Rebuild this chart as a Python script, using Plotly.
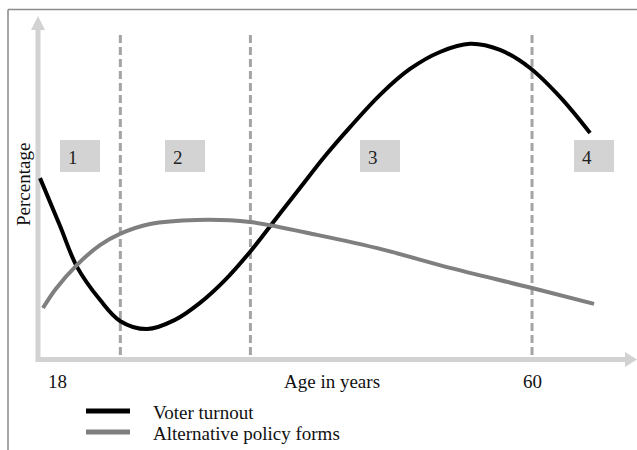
import plotly.graph_objects as go

# voter turnout over the life course (age in years, height on the percentage axis)
turnout_age = [16.50, 18.27, 19.77, 21.80, 23.57, 25.96, 28.43, 30.64, 32.85, 35.06,
               37.27, 39.48, 41.70, 43.91, 46.56, 49.21, 51.86, 54.52, 57.17, 59.82,
               62.47, 65.13]
turnout_pct = [52.9, 38.8, 26.8, 17.1, 10.9, 8.5, 11.2, 16.2, 22.9, 31.2,
               40.6, 50.0, 59.4, 67.9, 77.4, 85.0, 90.0, 92.4, 90.6, 85.3,
               76.8, 66.2]

# alternative policy forms
alt_age = [16.76, 17.82, 19.77, 21.80, 23.57, 26.22, 30.38, 35.06, 40.99, 46.91,
           52.75, 60.0, 65.48]
alt_pct = [14.7, 20.0, 27.4, 33.2, 36.5, 39.4, 40.6, 40.0, 36.2, 31.8,
           26.5, 20.6, 15.9]

stage_bounds = [23.6, 35.1, 60.0]
stage_labels = ["1", "2", "3", "4"]
tick_ages = [18, 60]
series_names = ["Voter turnout", "Alternative policy forms"]

FONT = "Liberation Serif"
FS = 19
AXIS_C = "#d2d2d2"
DASH_C = "#a4a4a4"
BOX_C = "#d3d3d3"
BLACK = "#000000"
GREY = "#7f7f7f"

W, H = 637, 450
# pixel -> data helpers (plot area is the whole page)
X_MIN, X_MAX = 12.96, 69.28
Y_MIN, Y_MAX = -27.06, 105.29


def px(x):
    return X_MIN + x / W * (X_MAX - X_MIN)


def py(y):
    return Y_MAX - y / H * (Y_MAX - Y_MIN)


fig = go.Figure()
fig.add_trace(go.Scatter(x=turnout_age, y=turnout_pct, mode="lines",
                         line=dict(color=BLACK, width=4, shape="spline", smoothing=1),
                         name=series_names[0], hoverinfo="skip"))
fig.add_trace(go.Scatter(x=alt_age, y=alt_pct, mode="lines",
                         line=dict(color=GREY, width=4, shape="spline", smoothing=0.8),
                         name=series_names[1], hoverinfo="skip"))

shapes = []
# frame (top and left only)
shapes.append(dict(type="line", xref="paper", yref="paper", x0=8 / W, x1=1,
                   y0=1 - 9.5 / H, y1=1 - 9.5 / H, line=dict(color="#8a8a8a", width=1.5)))
shapes.append(dict(type="line", xref="paper", yref="paper", x0=8 / W, x1=8 / W,
                   y0=0, y1=1 - 9.5 / H, line=dict(color="#8a8a8a", width=1.5)))

# axes with arrowheads
ax_x = px(38)
shapes.append(dict(type="line", x0=ax_x, x1=ax_x, y0=py(362), y1=py(29),
                   line=dict(color=AXIS_C, width=5), layer="below"))
shapes.append(dict(type="path", fillcolor=AXIS_C, line=dict(width=0), layer="below",
                   path=f"M {px(31)},{py(30)} L {px(45)},{py(30)} L {ax_x},{py(16)} Z"))
shapes.append(dict(type="line", x0=px(36), x1=px(626), y0=py(359.5), y1=py(359.5),
                   line=dict(color=AXIS_C, width=5), layer="below"))
shapes.append(dict(type="path", fillcolor=AXIS_C, line=dict(width=0), layer="below",
                   path=f"M {px(625)},{py(352)} L {px(625)},{py(367)} L {px(637)},{py(359.5)} Z"))

# stage boundaries
for b in stage_bounds:
    shapes.append(dict(type="line", x0=b, x1=b, y0=py(35), y1=py(357),
                       line=dict(color=DASH_C, width=3, dash="8px,4px"), layer="below"))

annotations = []
# stage label boxes
box_left_px = [60, 165, 360, 574]
for lab, left in zip(stage_labels, box_left_px):
    shapes.append(dict(type="rect", x0=px(left), x1=px(left + 40), y0=py(172), y1=py(140),
                       fillcolor=BOX_C, line=dict(width=0), layer="below"))
    annotations.append(dict(x=px(left + 13), y=py(157), text=lab, showarrow=False,
                            xanchor="center", yanchor="middle",
                            font=dict(family=FONT, size=FS, color="#222")))

# axis texts
for t in tick_ages:
    annotations.append(dict(x=t, y=py(381), text=str(t), showarrow=False,
                            font=dict(family=FONT, size=FS, color="#111")))
annotations.append(dict(x=px(332), y=py(381), text="Age in years", showarrow=False,
                        font=dict(family=FONT, size=FS, color="#111")))
annotations.append(dict(x=px(23), y=py(185), text="Percentage", showarrow=False,
                        textangle=-90, font=dict(family=FONT, size=FS, color="#111")))

# legend drawn by hand
for name, colr, yy in [(series_names[0], BLACK, 411), (series_names[1], GREY, 432)]:
    shapes.append(dict(type="line", xref="paper", yref="paper", x0=86 / W, x1=130 / W,
                       y0=1 - yy / H, y1=1 - yy / H, line=dict(color=colr, width=5)))
    annotations.append(dict(xref="paper", yref="paper", x=151 / W, y=1 - (yy + 1) / H,
                            text=name, showarrow=False, xanchor="left", yanchor="middle",
                            font=dict(family=FONT, size=FS, color="#111")))

fig.update_layout(
    width=W, height=H, margin=dict(l=0, r=0, t=0, b=0),
    paper_bgcolor="white", plot_bgcolor="white", showlegend=False,
    xaxis=dict(range=[X_MIN, X_MAX], visible=False, fixedrange=True),
    yaxis=dict(range=[Y_MIN, Y_MAX], visible=False, fixedrange=True),
    shapes=shapes, annotations=annotations)

fig.write_html("out.html", config={"displayModeBar": False},
               post_script="document.body.style.margin='0';")
